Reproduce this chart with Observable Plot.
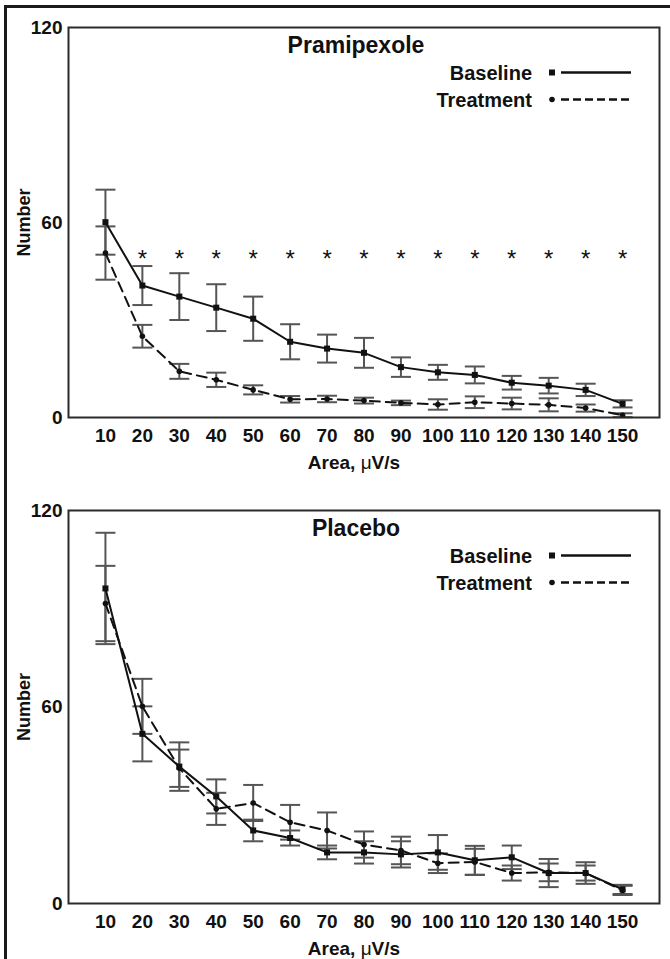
<!DOCTYPE html>
<html><head><meta charset="utf-8">
<script src="https://cdn.jsdelivr.net/npm/d3@7"></script>
<script src="https://cdn.jsdelivr.net/npm/@observablehq/plot@0.6"></script>
<style>
body{margin:0;background:#fff;}
#wrap{position:relative;width:670px;height:959px;overflow:hidden;background:#fff;}
#frame{position:absolute;left:4px;top:5px;width:700px;height:1000px;border-left:3px solid #1a1a1a;border-top:3px solid #1a1a1a;pointer-events:none;}
svg{display:block;}
</style></head><body><div id="wrap"><div id="charts"></div><div id="frame"></div></div>
<script>
// ---- data ----
const areas = [10,20,30,40,50,60,70,80,90,100,110,120,130,140,150];
const yTicks = [0,60,120];
const xLabel = "Area, μV/s";
const yLabel = "Number";

const pramTitle = "Pramipexole";
const pramBase     = [60.1,40.6,37.2,33.8,30.4,23.3,21.2,19.9,15.5,13.9,13.1,10.7,9.8,8.5,4.2];
const pramBaseErr  = [10.0,6.0,7.2,7.2,6.8,5.4,4.3,4.6,3.0,2.3,2.6,2.1,2.4,1.9,1.1];
const pramTreat    = [50.6,25.0,14.2,11.6,8.5,5.6,5.7,5.2,4.5,4.0,4.7,4.3,3.9,2.9,0.7];
const pramTreatErr = [8.2,3.5,2.3,2.2,1.4,1.0,1.0,0.9,0.7,1.6,1.8,1.8,2.0,1.1,0.6];
const pramStars    = [20,30,40,50,60,70,80,90,100,110,120,130,140,150];
const starLevel = 50.5;

const placTitle = "Placebo";
const placBase     = [96.2,51.8,41.8,32.7,22.3,20.0,15.6,15.6,15.0,15.6,13.2,14.1,9.3,9.3,4.3];
const placBaseErr  = [17.0,8.4,7.4,5.2,3.3,2.3,2.1,3.4,4.0,5.3,4.4,3.6,4.3,3.3,1.4];
const placTreat    = [91.6,60.2,41.3,28.9,30.7,24.8,22.3,18.0,16.2,12.3,12.7,9.3,9.5,9.3,4.0];
const placTreatErr = [11.5,8.4,5.7,4.9,5.5,5.3,5.5,4.0,4.2,3.0,4.0,2.3,2.7,2.3,1.4];

const legendItems = [
  {label:"Baseline", symbol:"square", dash:null},
  {label:"Treatment", symbol:"circle", dash:"8,4"}
];

// ---- drawing ----
const FONT = "'Liberation Sans', Arial, Helvetica, sans-serif";
const capSymbol = { draw(ctx, size) { const r = Math.sqrt(size / Math.PI); ctx.moveTo(-r, 0); ctx.lineTo(r, 0); } };

function panel({title, base, baseErr, treat, treatErr, stars, height, marginTop, marginBottom}) {
  const rows = (m, e, g) => areas.map((a,i)=>({area:a, mean:m[i], lo:m[i]-e[i], hi:m[i]+e[i], group:g}));
  const B = rows(base, baseErr, "Baseline"), T = rows(treat, treatErr, "Treatment");
  const all = [...B, ...T];
  const caps = all.flatMap(d => [{area:d.area, y:d.lo}, {area:d.area, y:d.hi}]);
  const marks = [
    Plot.ruleX(all, {x:"area", y1:"lo", y2:"hi", stroke:"#555", strokeWidth:2}),
    Plot.dot(caps, {x:"area", y:"y", symbol:capSymbol, r:10, fill:"none", stroke:"#555", strokeWidth:2}),
    Plot.line(B, {x:"area", y:"mean", stroke:"#111", strokeWidth:2}),
    Plot.line(T, {x:"area", y:"mean", stroke:"#111", strokeWidth:2, strokeDasharray:"10,6"}),
    Plot.dot(B, {x:"area", y:"mean", symbol:"square", r:3.4, fill:"#111", stroke:"none"}),
    Plot.dot(T, {x:"area", y:"mean", symbol:"circle", r:2.8, fill:"#111", stroke:"none"}),
    Plot.frame({stroke:"#2b2b2b", strokeWidth:2}),
    Plot.axisX({ticks: areas, tickSize:0, tickPadding:11, label:null}),
    Plot.axisY({ticks: yTicks, tickSize:0, tickPadding:6, label:null}),
    Plot.text([title], {frameAnchor:"top", lineAnchor:"bottom", dy:25, dx:-8, fontSize:23, text:d=>d}),
    Plot.text([yLabel], {frameAnchor:"left", textAnchor:"middle", lineAnchor:"middle", rotate:-90, dx:-44, fontSize:18, text:d=>d}),
    Plot.text([xLabel], {frameAnchor:"bottom", lineAnchor:"middle", dy:45, dx:-10, fontSize:19, text:d=>d}),
  ];
  if (stars) marks.push(Plot.text(stars, {x:d=>d, y:()=>starLevel, text:()=>"*", fontSize:24, fontWeight:"normal", dy:6}));
  const svg = Plot.plot({width:670, height, marginTop, marginBottom, marginLeft:68, marginRight:11,
    x:{domain:[0,160]}, y:{domain:[0,120]},
    style:{fontFamily:FONT, fontSize:"19px", fontWeight:"bold", color:"#111", background:"white", overflow:"visible"},
    marks});
  // mu in lighter weight
  d3.select(svg).selectAll("text").filter(function(){ return this.textContent === xLabel; }).each(function(){
    const t = d3.select(this); t.text(null);
    t.append("tspan").text("Area, ");
    t.append("tspan").attr("font-weight","normal").text("μ");
    t.append("tspan").text("V/s");
  });
  // legend
  const right = 670 - 11;
  const g = d3.select(svg).append("g").attr("font-family", FONT).attr("font-weight","bold").attr("font-size", 20).attr("fill","#111");
  legendItems.forEach((it, i) => {
    const cy = marginTop + 45.5 + i * 27;
    g.append("text").attr("x", right - 127).attr("y", cy).attr("dy","0.35em").attr("text-anchor","end").text(it.label);
    if (it.symbol === "square") g.append("rect").attr("x", right-110).attr("y", cy-3).attr("width",6).attr("height",6).attr("fill","#111");
    else g.append("circle").attr("cx", right-107).attr("cy", cy).attr("r",2.8).attr("fill","#111");
    const l = g.append("line").attr("x1", right-98).attr("x2", right-28).attr("y1", cy).attr("y2", cy).attr("stroke","#111").attr("stroke-width",2.5);
    if (it.dash) l.attr("stroke-dasharray", it.dash);
  });
  return svg;
}

const charts = document.getElementById("charts");
charts.appendChild(panel({title:pramTitle, base:pramBase, baseErr:pramBaseErr, treat:pramTreat, treatErr:pramTreatErr, stars:pramStars, height:480, marginTop:27, marginBottom:63}));
charts.appendChild(panel({title:placTitle, base:placBase, baseErr:placBaseErr, treat:placTreat, treatErr:placTreatErr, stars:null, height:479, marginTop:30, marginBottom:56}));
</script>
</body></html>
